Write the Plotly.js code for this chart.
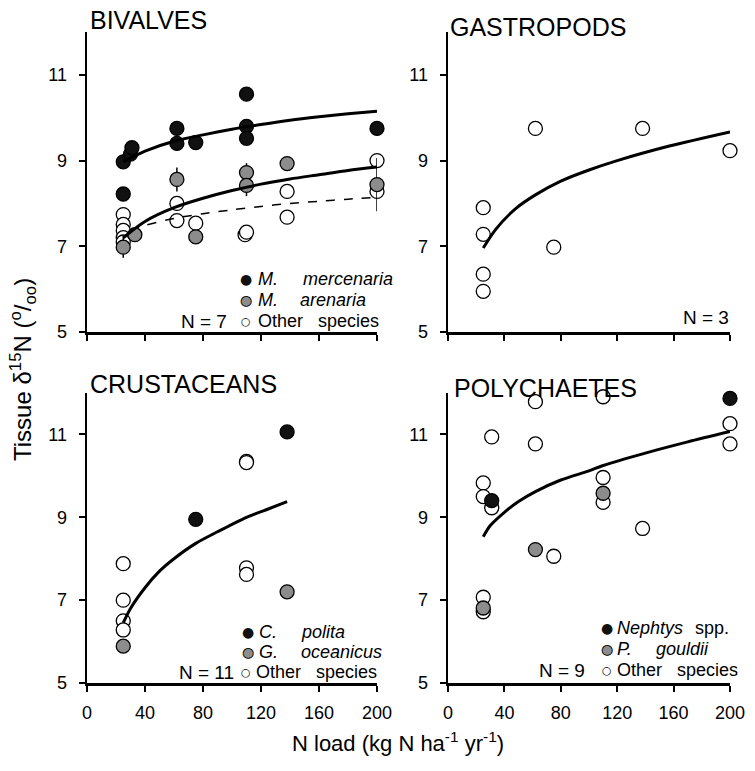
<!DOCTYPE html>
<html><head><meta charset="utf-8">
<script src="https://cdn.plot.ly/plotly-3.0.1.min.js"></script>
<style>html,body{margin:0;padding:0;background:#fff}</style>
</head><body><div id="chart" style="width:755px;height:771px"></div>
<script>
// ---------- axis ticks ----------
const xTicks = [0, 40, 80, 120, 160, 200];
const yTicks = [5, 7, 9, 11];

// ---------- BIVALVES ----------
const bivMercX = [25, 25, 30, 31, 62, 62, 75, 110, 110, 110, 200];
const bivMercY = [8.97, 8.22, 9.15, 9.3, 9.75, 9.4, 9.42, 10.55, 9.8, 9.52, 9.75];
const bivArenX = [25, 33, 62, 75, 110, 110, 138, 200];
const bivArenY = [6.98, 7.27, 8.56, 7.22, 8.72, 8.42, 8.93, 8.44];
const bivArenErr = [0.25, 0, 0.28, 0, 0.22, 0.25, 0, 0.62];
const bivOtherX = [25, 25, 25, 25, 25, 62, 62, 75, 109, 110, 138, 138, 200, 200];
const bivOtherY = [7.74, 7.51, 7.37, 7.2, 7.1, 8.0, 7.6, 7.54, 7.27, 7.33, 8.28, 7.68, 9.0, 8.28];
const bivFitX = [25, 40, 60, 80, 100, 120, 140, 160, 180, 200];
const bivMercFit = [8.97, 9.22, 9.45, 9.6, 9.73, 9.84, 9.94, 10.02, 10.09, 10.15];
const bivArenFit = [7.2, 7.58, 7.9, 8.12, 8.3, 8.45, 8.57, 8.67, 8.77, 8.85];
const bivOtherFitX = [30, 40, 60, 80, 100, 120, 140, 160, 180, 200];
const bivOtherFit = [7.38, 7.49, 7.65, 7.76, 7.85, 7.93, 8.0, 8.05, 8.1, 8.14];

// ---------- GASTROPODS ----------
const gasX = [25, 25, 25, 25, 62, 75, 138, 200];
const gasY = [7.9, 7.28, 6.35, 5.95, 9.75, 6.98, 9.75, 9.23];
const gasFitX = [25, 34, 48, 62, 80, 100, 120, 157, 200];
const gasFitY = [6.96, 7.4, 7.88, 8.2, 8.52, 8.78, 9.0, 9.34, 9.67];

// ---------- CRUSTACEANS ----------
const cruPolX = [75, 138];
const cruPolY = [8.95, 11.06];
const cruOceX = [25, 138];
const cruOceY = [5.89, 7.2];
const cruOtherX = [25, 25, 25, 25, 110, 110, 110, 110];
const cruOtherY = [7.88, 7.0, 6.5, 6.28, 10.35, 10.32, 7.78, 7.62];
const cruFitX = [25, 30, 40, 50, 60, 75, 90, 110, 125, 138];
const cruFitY = [6.45, 6.8, 7.3, 7.7, 8.0, 8.37, 8.65, 9.0, 9.2, 9.38];

// ---------- POLYCHAETES ----------
const polNepX = [31, 200];
const polNepY = [9.4, 11.87];
const polGouX = [25, 62, 110];
const polGouY = [6.81, 8.22, 9.58];
const polOtherX = [25, 25, 31, 31, 25, 25, 62, 62, 75, 110, 110, 110, 138, 200, 200];
const polOtherY = [9.83, 9.5, 10.94, 9.23, 7.07, 6.72, 11.79, 10.77, 8.06, 11.91, 9.96, 9.36, 8.73, 11.26, 10.77];
const polFitX = [25, 30, 40, 50, 62, 80, 100, 110, 140, 170, 200];
const polFitY = [8.53, 8.8, 9.12, 9.38, 9.62, 9.9, 10.12, 10.25, 10.55, 10.82, 11.07];

// ---------- styling ----------
const W = 755, H = 771;
const px = p => p / W, py = p => 1 - p / H;
const BLACK = '#111111', GRAY = '#8c8c8c', WHITE = '#ffffff';
const FONT = 'Liberation Sans, Arial, Helvetica, sans-serif';

function pts(x, y, fill, xa, ya, err) {
  const t = {type: 'scatter', mode: 'markers', x: x, y: y, xaxis: xa, yaxis: ya,
    cliponaxis: false, showlegend: false, hoverinfo: 'skip',
    marker: {size: 14, color: fill, line: {color: '#000', width: 1.3}}};
  if (err) t.error_y = {type: 'data', array: err, visible: true, width: 0, thickness: 1.5, color: '#000'};
  return t;
}
function fit(x, y, xa, ya, dash, w) {
  return {type: 'scatter', mode: 'lines', x: x, y: y, xaxis: xa, yaxis: ya,
    cliponaxis: false, showlegend: false, hoverinfo: 'skip',
    line: {color: '#000', width: w, dash: dash, shape: 'spline', smoothing: 0.8}};
}

const data = [
  pts(bivOtherX, bivOtherY, WHITE, 'x', 'y'),
  pts(bivArenX, bivArenY, GRAY, 'x', 'y', bivArenErr),
  pts(bivMercX, bivMercY, BLACK, 'x', 'y'),
  fit(bivFitX, bivMercFit, 'x', 'y', 'solid', 3),
  fit(bivFitX, bivArenFit, 'x', 'y', 'solid', 3),
  fit(bivOtherFitX, bivOtherFit, 'x', 'y', 'dash', 1.5),

  pts(gasX, gasY, WHITE, 'x2', 'y2'),
  fit(gasFitX, gasFitY, 'x2', 'y2', 'solid', 3),

  pts(cruOtherX, cruOtherY, WHITE, 'x3', 'y3'),
  pts(cruOceX, cruOceY, GRAY, 'x3', 'y3'),
  pts(cruPolX, cruPolY, BLACK, 'x3', 'y3'),
  fit(cruFitX, cruFitY, 'x3', 'y3', 'solid', 3),

  pts(polOtherX, polOtherY, WHITE, 'x4', 'y4'),
  pts(polGouX, polGouY, GRAY, 'x4', 'y4'),
  pts(polNepX, polNepY, BLACK, 'x4', 'y4'),
  fit(polFitX, polFitY, 'x4', 'y4', 'solid', 3)
];

function xAxis(domain, anchor, labels) {
  return {domain: domain, anchor: anchor, range: [0, 200], tickmode: 'array', tickvals: xTicks,
    ticktext: xTicks.map(String), showline: true, linewidth: 2.5, linecolor: '#000',
    ticks: 'outside', ticklen: 6, tickwidth: 2, tickcolor: '#000', showgrid: false, zeroline: false,
    showticklabels: labels, ticklabelstandoff: 6,
    tickfont: {family: FONT, size: 18, color: '#000'}, fixedrange: true};
}
function yAxis(domain, anchor) {
  return {domain: domain, anchor: anchor, range: [5, 12], tickmode: 'array', tickvals: yTicks,
    ticktext: yTicks.map(String), showline: true, linewidth: 2.5, linecolor: '#000',
    ticks: 'outside', ticklen: 6, tickwidth: 2, tickcolor: '#000', showgrid: false, zeroline: false,
    ticklabelstandoff: 8, tickfont: {family: FONT, size: 18, color: '#000'}, fixedrange: true};
}

const xL = [px(87), px(377)], xR = [px(448), px(730)];
const yT = [py(332), py(32)], yB = [py(683), py(393)];

const LF = 18; // legend text size
function txt(text, x, y, size, xanchor, opts) {
  return Object.assign({text: text, xref: 'paper', yref: 'paper', x: px(x), y: py(y),
    xanchor: xanchor || 'left', yanchor: 'middle', showarrow: false,
    font: {family: FONT, size: size, color: '#000'}}, opts || {});
}
function sym(kind, x, y) {
  const out = [];
  const f = 'DejaVu Sans, sans-serif';
  if (kind === 'black') out.push(txt('●', x, y, 14, 'center', {font: {family: f, size: 14, color: BLACK}}));
  if (kind === 'gray') {
    out.push(txt('●', x, y, 14, 'center', {font: {family: f, size: 14, color: GRAY}}));
    out.push(txt('○', x, y, 14, 'center', {font: {family: f, size: 14, color: '#000'}}));
  }
  if (kind === 'open') out.push(txt('○', x, y, 11, 'center', {font: {family: f, size: 11, color: '#000'}}));
  return out;
}

const ann = [
  txt('BIVALVES', 88, 20, 25),
  txt('GASTROPODS', 448, 27, 25),
  txt('CRUSTACEANS', 88, 384, 25),
  txt('POLYCHAETES', 452, 388, 25),
  // legends
  ...sym('black', 246, 279), txt('<i>M.</i>', 256, 279, LF), txt('<i>mercenaria</i>', 301, 279, LF),
  ...sym('gray', 246, 300), txt('<i>M.</i>', 256, 300, LF), txt('<i>arenaria</i>', 298, 300, LF),
  ...sym('open', 246, 321), txt('Other', 256, 321, LF), txt('species', 316, 321, LF),
  txt('N = 7', 229, 321, 19, 'right'),
  txt('N = 3', 731, 317, 19, 'right'),
  ...sym('black', 248, 632), txt('<i>C.</i>', 257, 632, LF), txt('<i>polita</i>', 299, 632, LF),
  ...sym('gray', 248, 652), txt('<i>G.</i>', 257, 652, LF), txt('<i>oceanicus</i>', 299, 652, LF),
  ...sym('open', 246, 672), txt('Other', 254, 672, LF), txt('species', 314, 672, LF),
  txt('N = 11', 236, 672, 19, 'right'),
  ...sym('black', 607, 628), txt('<i>Nephtys</i>', 615, 628, LF), txt('spp.', 693, 628, LF),
  ...sym('gray', 607, 649), txt('<i>P.</i>', 615, 649, LF), txt('<i>gouldii</i>', 654, 649, LF),
  ...sym('open', 607, 670), txt('Other', 615, 670, LF), txt('species', 675, 670, LF),
  txt('N = 9', 587, 670, 19, 'right'),
  // axis titles
  txt('Tissue δ<sup>15</sup>N (<sup>o</sup>/<sub>oo</sub>)', 23, 370, 24, 'center', {textangle: -90}),
  txt('N load (kg N ha<sup>-1</sup> yr<sup>-1</sup>)', 398, 742, 22, 'center')
];

const layout = {
  width: W, height: H, margin: {l: 0, r: 0, t: 0, b: 0},
  paper_bgcolor: '#fff', plot_bgcolor: 'rgba(0,0,0,0)', showlegend: false,
  font: {family: FONT, color: '#000'},
  xaxis: xAxis(xL, 'y', false), yaxis: yAxis(yT, 'x'),
  xaxis2: xAxis(xR, 'y2', false), yaxis2: yAxis(yT, 'x2'),
  xaxis3: xAxis(xL, 'y3', true), yaxis3: yAxis(yB, 'x3'),
  xaxis4: xAxis(xR, 'y4', true), yaxis4: yAxis(yB, 'x4'),
  annotations: ann
};

Plotly.newPlot('chart', data, layout, {staticPlot: true, displayModeBar: false});
</script></body></html>
